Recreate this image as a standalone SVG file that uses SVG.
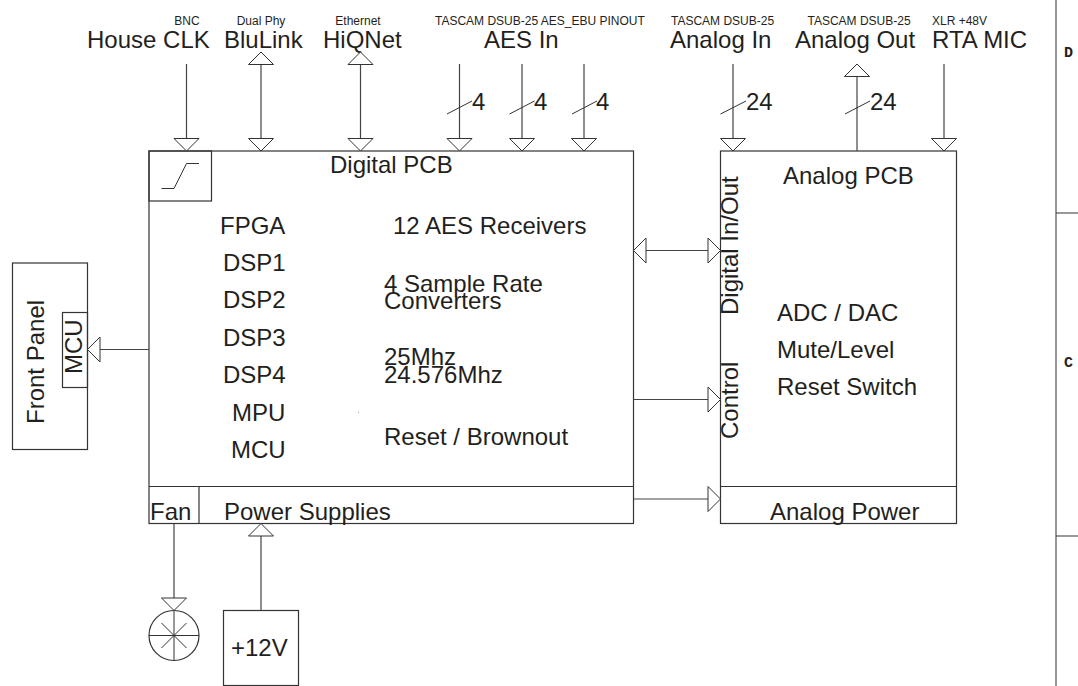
<svg xmlns="http://www.w3.org/2000/svg" width="1078" height="686" viewBox="0 0 1078 686">
<style>
text{font-family:"Liberation Sans",Arial,sans-serif;fill:#231f20;font-size:24px}
.s{font-size:12px}
.m{font-family:"Liberation Mono","Courier New",monospace;font-size:15px;font-weight:bold}
.b{fill:#fff;stroke:#333;stroke-width:1.2}
.n{fill:none;stroke:#333;stroke-width:1.2}
.c{fill:none;stroke:#444;stroke-width:1.2}
.t{fill:none;stroke:#333;stroke-width:1}
</style>
<defs>
<polygon id="d" points="-12.5,-12.5 12.5,-12.5 0,0" fill="#fff" stroke="#333" stroke-width="1"/>
<polygon id="u" points="-12.5,12.5 12.5,12.5 0,0" fill="#fff" stroke="#333" stroke-width="1"/>
<polygon id="r" points="-12.5,-12.5 -12.5,12.5 0,0" fill="#fff" stroke="#333" stroke-width="1"/>
<polygon id="l" points="12.5,-12.5 12.5,12.5 0,0" fill="#fff" stroke="#333" stroke-width="1"/>
</defs>
<g id="border">
<line x1="1056" y1="0" x2="1056" y2="686" stroke="#999" stroke-width="2"/>
<line x1="1056" y1="213" x2="1078" y2="213" stroke="#333" stroke-width="1"/>
<line x1="1056" y1="536" x2="1078" y2="536" stroke="#333" stroke-width="1"/>
<text class="m" x="1068.5" y="57" text-anchor="middle">D</text>
<text class="m" x="1068.5" y="367" text-anchor="middle">C</text>
</g>
<g id="digital-pcb">
<rect class="b" x="149" y="151" width="484.500" height="372.500"/>
<line class="n" x1="149" y1="486.500" x2="633.500" y2="486.500"/>
<line class="n" x1="199" y1="486.500" x2="199" y2="523.500"/>
<rect class="n" x="149" y="151" width="62.500" height="50"/>
<polyline class="t" points="161.500,188.500 174,188.500 186.500,163.500 199,163.500"/>
<text x="330" y="172.500">Digital PCB</text>
<text x="220" y="234">FPGA</text>
<text x="223" y="271">DSP1</text>
<text x="223" y="308">DSP2</text>
<text x="223" y="346">DSP3</text>
<text x="223" y="383">DSP4</text>
<text x="232" y="421">MPU</text>
<text x="231" y="458">MCU</text>
<text x="393" y="234">12 AES Receivers</text>
<text x="384" y="292">4 Sample Rate</text>
<text x="384" y="309">Converters</text>
<text x="384" y="365">25Mhz</text>
<text x="384" y="383">24.576Mhz</text>
<text x="384" y="445">Reset / Brownout</text>
<text x="150" y="520">Fan</text>
<text x="224" y="520">Power Supplies</text>
<rect x="358" y="412" width="1" height="1" fill="#999"/>
</g>
<g id="analog-pcb">
<rect class="b" x="720.500" y="151" width="236" height="372.500"/>
<line class="n" x1="720.500" y1="486.500" x2="956.500" y2="486.500"/>
<text x="783" y="184">Analog PCB</text>
<text x="777" y="321">ADC / DAC</text>
<text x="777" y="358">Mute/Level</text>
<text x="777" y="395">Reset Switch</text>
<text x="770" y="520">Analog Power</text>
<text transform="translate(738,315) rotate(-90)">Digital In/Out</text>
<text transform="translate(738,439) rotate(-90)">Control</text>
</g>
<g id="front-panel">
<rect class="b" x="12.500" y="263" width="75" height="186.500"/>
<rect class="n" x="62.500" y="312.500" width="25" height="75"/>
<text transform="translate(43.500,424) rotate(-90)">Front Panel</text>
<text transform="translate(81.500,374) rotate(-90)">MCU</text>
</g>
<g id="fan">
<circle class="n" cx="174" cy="635.500" r="25"/>
<path class="t" d="M149,635.500H199M174,610.500V660.500M161.500,623L186.500,648M186.500,623L161.500,648"/>
</g>
<g id="supply-12v">
<rect class="n" x="223.500" y="610.500" width="75" height="75"/>
<text x="231" y="655.500">+12V</text>
</g>
<g id="port-labels">
<text class="s" x="187" y="25" text-anchor="middle">BNC</text>
<text class="s" x="261" y="25" text-anchor="middle">Dual Phy</text>
<text class="s" x="358" y="25" text-anchor="middle">Ethernet</text>
<text class="s" x="435" y="25">TASCAM DSUB-25 AES_EBU PINOUT</text>
<text class="s" x="671" y="25">TASCAM DSUB-25</text>
<text class="s" x="807.500" y="25">TASCAM DSUB-25</text>
<text class="s" x="932" y="25">XLR +48V</text>
<text x="87" y="48">House CLK</text>
<text x="224" y="48">BluLink</text>
<text x="323" y="48">HiQNet</text>
<text x="484" y="48">AES In</text>
<text x="670" y="48">Analog In</text>
<text x="795" y="48">Analog Out</text>
<text x="932" y="48">RTA MIC</text>
<text x="472" y="110">4</text>
<text x="534" y="110">4</text>
<text x="596" y="110">4</text>
<text x="746" y="110">24</text>
<text x="870" y="110">24</text>
</g>
<g id="connectors">
<path class="c" d="M186.500,64V151M261,64V151M360.500,64V151M459.500,64V151M522,64V151M584,64V151M733,64V151M857,64V151M944,64V151"/>
<path class="t" d="M447,114L472,101M509.500,114L534.500,101M572,114L597,101M720.500,114L746,101M845,114L870,101"/>
<path class="c" d="M149,349.500H87.500M633.500,250.500H720.500M633.500,399.500H720.500M633.500,499H720.500M174,523.500V610.500M261,523.500V610.500"/>
<use href="#d" x="186.500" y="151"/>
<use href="#d" x="261" y="151"/>
<use href="#d" x="360.500" y="151"/>
<use href="#d" x="459.500" y="151"/>
<use href="#d" x="522" y="151"/>
<use href="#d" x="584" y="151"/>
<use href="#d" x="733" y="151"/>
<use href="#d" x="944" y="151"/>
<use href="#u" x="261" y="52"/>
<use href="#u" x="360.500" y="52"/>
<use href="#u" x="857" y="64"/>
<use href="#u" x="261" y="523.500"/>
<use href="#d" x="174" y="610.500"/>
<use href="#l" x="87.500" y="349.500"/>
<use href="#l" x="633.500" y="250.500"/>
<use href="#r" x="720.500" y="250.500"/>
<use href="#r" x="720.500" y="399.500"/>
<use href="#r" x="720.500" y="499"/>
</g>
</svg>
